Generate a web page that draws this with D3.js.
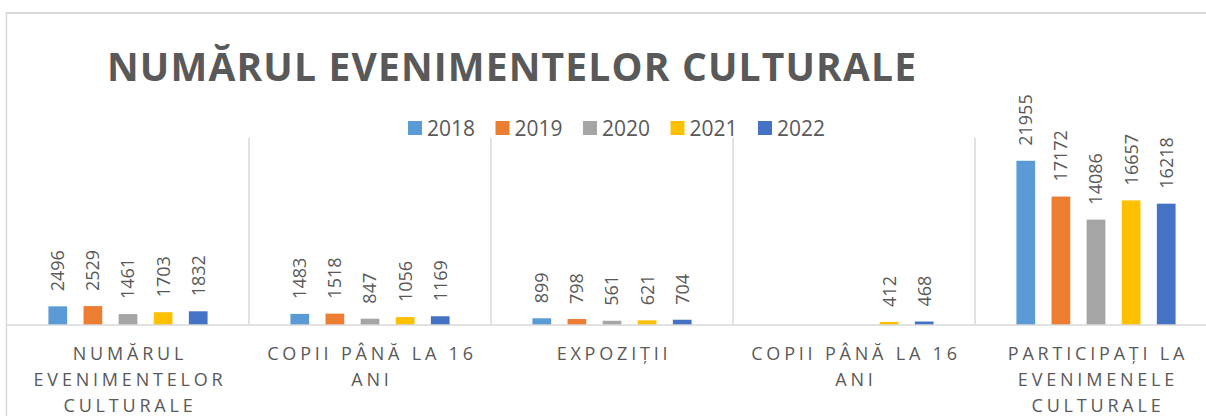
<!DOCTYPE html>
<html lang="ro">
<head>
  <meta charset="UTF-8">
  <title>Numărul evenimentelor culturale</title>
  <style>
    body { margin: 0; background: #fff; }
    svg { display: block; font-family: "Open Sans", sans-serif; }
  </style>
</head>
<body>
  <div id="chart"></div>

  <script src="https://cdnjs.cloudflare.com/ajax/libs/d3/7.8.5/d3.min.js"></script>
  <script>
    // chart data
    const categories = [
      'NUMĂRUL EVENIMENTELOR CULTURALE',
      'COPII PÂNĂ LA 16 ANI',
      'EXPOZIȚII',
      'COPII PÂNĂ LA 16 ANI',
      'PARTICIPAȚI LA EVENIMENELE CULTURALE'
    ];
    const years = ['2018', '2019', '2020', '2021', '2022'];
    const values2018 = [2496, 1483, 899, null, 21955];
    const values2019 = [2529, 1518, 798, null, 17172];
    const values2020 = [1461, 847, 561, null, 14086];
    const values2021 = [1703, 1056, 621, 412, 16657];
    const values2022 = [1832, 1169, 704, 468, 16218];
    const colors = ['#5B9BD5', '#ED7D31', '#A5A5A5', '#FFC000', '#4472C4'];
    const title = 'NUMĂRUL EVENIMENTELOR CULTURALE';

    const series = [values2018, values2019, values2020, values2021, values2022];

    const width = 1206;
    const height = 416;
    const grey = '#595959';
    const lineGrey = '#d9d9d9';

    const svg = d3.select('#chart')
      .append('svg')
      .attr('width', width)
      .attr('height', height);

    // chart frame (only top and left edge visible)
    svg.append('line')
      .attr('x1', 6).attr('x2', width).attr('y1', 13).attr('y2', 13)
      .attr('stroke', lineGrey).attr('stroke-width', 2);
    svg.append('line')
      .attr('x1', 6.5).attr('x2', 6.5).attr('y1', 13).attr('y2', height)
      .attr('stroke', lineGrey).attr('stroke-width', 1.5);

    //scales
    const plotTop = 138, baseline = 325;
    const x0 = d3.scaleBand()
      .domain(d3.range(categories.length))
      .range([7, 7 + 242 * categories.length]);
    const x1 = d3.scaleBand()
      .domain(years)
      .range([0, x0.bandwidth()])
      .paddingInner(0.467)
      .paddingOuter(1.18);
    const y = d3.scaleLinear().domain([0, 25000]).range([baseline, plotTop]);

    // category separators
    svg.append('g')
      .selectAll('line')
      .data(d3.range(1, categories.length))
      .join('line')
      .attr('x1', d => x0(d)).attr('x2', d => x0(d))
      .attr('y1', plotTop).attr('y2', baseline)
      .attr('stroke', lineGrey).attr('stroke-width', 1.5);

    // title
    svg.append('text')
      .attr('x', 107)
      .attr('y', 81)
      .attr('fill', grey)
      .attr('font-size', 39)
      .attr('font-weight', 700)
      .attr('letter-spacing', 1.15)
      .text(title);

    // legend
    const legend = svg.append('g')
      .selectAll('g')
      .data(years)
      .join('g')
      .attr('transform', (d, i) => `translate(${408 + i * 87.5},121)`);
    legend.append('rect')
      .attr('width', 14).attr('height', 14)
      .attr('fill', (d, i) => colors[i]);
    legend.append('text')
      .attr('x', 19).attr('y', 15)
      .attr('font-size', 21)
      .attr('fill', grey)
      .text(d => d);

    // bars + labels
    const groups = svg.append('g')
      .selectAll('g')
      .data(categories.map((c, ci) => ({
        ci: ci,
        items: years.map((yr, si) => ({ year: yr, si: si, value: series[si][ci] }))
          .filter(d => d.value != null)
      })))
      .join('g')
      .attr('transform', d => `translate(${x0(d.ci)},0)`);

    groups.selectAll('rect')
      .data(d => d.items)
      .join('rect')
      .attr('x', d => x1(d.year))
      .attr('y', d => y(d.value))
      .attr('width', x1.bandwidth())
      .attr('height', d => baseline - y(d.value))
      .attr('fill', d => colors[d.si]);

    groups.selectAll('text')
      .data(d => d.items)
      .join('text')
      .attr('transform', d => `translate(${x1(d.year) + x1.bandwidth() / 2},${y(d.value) - 15}) rotate(-90)`)
      .attr('dy', '0.36em')
      .attr('font-size', 18)
      .attr('fill', grey)
      .text(d => d.value);

    // baseline axis
    svg.append('line')
      .attr('x1', 7).attr('x2', width)
      .attr('y1', baseline).attr('y2', baseline)
      .attr('stroke', lineGrey).attr('stroke-width', 1.5);

    // category labels, wrapped like Excel does
    svg.append('g')
      .selectAll('text')
      .data(categories)
      .join('text')
      .attr('x', (d, i) => x0(i) + x0.bandwidth() / 2 + 2)
      .attr('y', 360)
      .attr('text-anchor', 'middle')
      .attr('font-size', 18)
      .attr('letter-spacing', 3.8)
      .attr('fill', grey)
      .text(d => d)
      .call(wrap, 225);

    function wrap(texts, maxWidth) {
      texts.each(function () {
        const text = d3.select(this);
        const words = text.text().split(' ');
        const x = text.attr('x');
        text.text(null);
        let line = [];
        let tspan = text.append('tspan').attr('x', x);
        words.forEach(w => {
          line.push(w);
          tspan.text(line.join(' '));
          if (tspan.node().getComputedTextLength() > maxWidth && line.length > 1) {
            line.pop();
            tspan.text(line.join(' '));
            line = [w];
            tspan = text.append('tspan').attr('x', x).attr('dy', 26).text(w);
          }
        });
      });
    }
  </script>
</body>
</html>
